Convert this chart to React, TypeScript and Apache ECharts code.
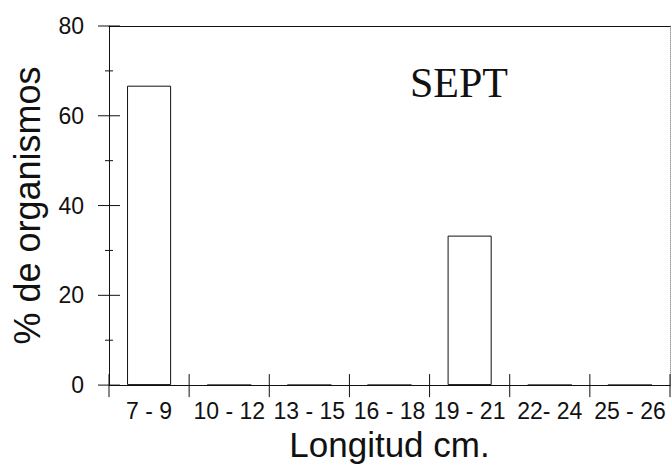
import React, { useEffect, useRef } from "react";
import * as echarts from "echarts";

const categories = ["7 - 9", "10 - 12", "13 - 15", "16 - 18", "19 - 21", "22- 24", "25 - 26"];
const percentValues = [66.7, 0, 0, 0, 33.3, 0, 0];
const yTicks = { min: 0, max: 80, interval: 20 };
const yMajorTicks = [0, 20, 40, 60, 80];
const yMinorTicks = [10, 30, 50, 70];
const panelLabel = "SEPT";
const xTitle = "Longitud cm.";
const yTitle = "% de organismos";

export default function App() {
  const ref = useRef<HTMLDivElement>(null);
  useEffect(() => {
    if (!ref.current) return;
    const chart = echarts.init(ref.current, null, { renderer: "svg" });
    const font = "Liberation Sans, Arial, sans-serif";
    const black = "#111";
    const tickStyle = { stroke: black, lineWidth: 1 };
    const yTickRenderer = (half: number) => (params: any, api: any) => {
      const x0 = params.coordSys.x;
      const y = api.coord([0, api.value(1)])[1];
      return {
        type: "line",
        shape: { x1: x0 - half, y1: y, x2: x0 + half, y2: y },
        style: tickStyle,
      };
    };
    chart.setOption({
      animation: false,
      backgroundColor: "#fff",
      title: {
        text: panelLabel,
        left: 410,
        top: 62,
        padding: 0,
        textStyle: { fontFamily: "Liberation Serif, Times New Roman, serif", fontSize: 42, fontWeight: "normal", color: black },
      },
      grid: { left: 109, right: 2, top: 26, bottom: 80, containLabel: false },
      xAxis: [
        {
          type: "category",
          data: categories,
          position: "bottom",
          axisLine: { show: true, lineStyle: { color: black, width: 1 } },
          axisTick: { show: false },
          axisLabel: { interval: 0, fontFamily: font, fontSize: 23, color: black, margin: 14 },
          name: xTitle,
          nameLocation: "middle",
          nameGap: 41,
          nameTextStyle: { fontFamily: font, fontSize: 35, color: black },
        },
        {
          type: "category",
          data: categories,
          position: "top",
          axisLine: { show: true, onZero: false, lineStyle: { color: black, width: 1 } },
          axisTick: { show: false },
          axisLabel: { show: false },
        },
      ],
      yAxis: [
        {
          type: "value",
          min: yTicks.min,
          max: yTicks.max,
          interval: yTicks.interval,
          position: "left",
          splitLine: { show: false },
          axisLine: { show: true, lineStyle: { color: black, width: 1 } },
          axisTick: { show: false },
          axisLabel: { fontFamily: font, fontSize: 23, color: black, margin: 25 },
          name: yTitle,
          nameLocation: "middle",
          nameRotate: 90,
          nameGap: 64,
          nameTextStyle: { fontFamily: font, fontSize: 36, color: black },
        },
        {
          type: "value",
          min: yTicks.min,
          max: yTicks.max,
          interval: yTicks.interval,
          position: "right",
          splitLine: { show: false },
          axisLine: { show: true, onZero: false, lineStyle: { color: "#999", width: 1, type: "dotted" } },
          axisTick: { show: false },
          axisLabel: { show: false },
        },
      ],
      series: [
        {
          type: "bar",
          xAxisIndex: 0,
          yAxisIndex: 0,
          data: percentValues,
          barWidth: "55%",
          itemStyle: { color: "#fff", borderColor: black, borderWidth: 1 },
        },
        {
          type: "custom",
          xAxisIndex: 0,
          yAxisIndex: 0,
          silent: true,
          z: 10,
          clip: false,
          data: yMajorTicks.map((v) => [0, v]),
          renderItem: yTickRenderer(11),
        },
        {
          type: "custom",
          xAxisIndex: 0,
          yAxisIndex: 0,
          silent: true,
          z: 10,
          clip: false,
          data: yMinorTicks.map((v) => [0, v]),
          renderItem: yTickRenderer(4),
        },
        {
          type: "custom",
          xAxisIndex: 0,
          yAxisIndex: 0,
          silent: true,
          z: 10,
          clip: false,
          data: categories.map((_, i) => [i, 0]),
          renderItem: (params: any, api: any) => {
            const i = api.value(0);
            const bw = api.size([1, 0])[0];
            const pt = api.coord([i, 0]);
            const yb = pt[1];
            const lines: any[] = [
              { type: "line", shape: { x1: pt[0] - bw / 2, y1: yb - 11, x2: pt[0] - bw / 2, y2: yb + 12 }, style: tickStyle },
            ];
            if (i === categories.length - 1) {
              lines.push({ type: "line", shape: { x1: pt[0] + bw / 2, y1: yb - 11, x2: pt[0] + bw / 2, y2: yb + 12 }, style: tickStyle });
            }
            return { type: "group", children: lines };
          },
        },
      ],
    });
    return () => chart.dispose();
  }, []);
  return <div ref={ref} style={{ width: 672, height: 467, position: "absolute", left: 0, top: 0 }} />;
}
